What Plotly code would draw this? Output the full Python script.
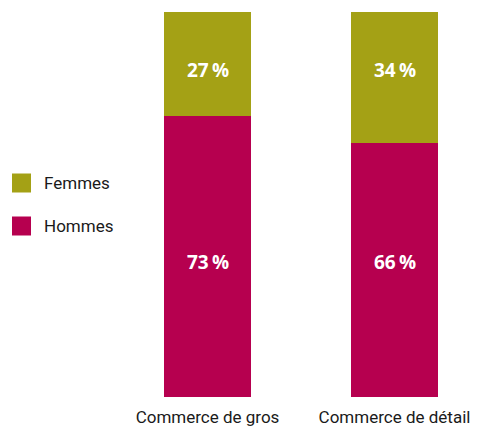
import plotly.graph_objects as go

categories = ["Commerce de gros", "Commerce de détail"]
hommes = [73, 66]
femmes = [27, 34]
colors = {"Hommes": "#B6004F", "Femmes": "#A4A115"}

W, H = 477, 428
ML, MR, MT, MB = 114, 0, 12, 31
PW = W - ML - MR
PH = H - MT - MB
LABEL_Y = {"Hommes": 35, "Femmes": 85}  # label placement (axis units)

def px_x(px):
    return (px - ML) / PW

def px_y(py):
    return 1 - (py - MT) / PH

fig = go.Figure()
for name, vals in [("Hommes", hommes), ("Femmes", femmes)]:
    fig.add_trace(go.Bar(
        x=categories, y=vals, name=name,
        marker=dict(color=colors[name], line=dict(width=0)),
        width=0.465, showlegend=False, hoverinfo="skip",
    ))
    for cat, v in zip(categories, vals):
        fig.add_annotation(x=cat, y=LABEL_Y[name], text=f"{v}\u2009%", showarrow=False,
                           font=dict(family="Open Sans", size=19, color="white", weight="bold"))

# legend drawn manually
for name, cy in [("Femmes", 183), ("Hommes", 226)]:
    fig.add_shape(type="rect", xref="paper", yref="paper",
                  x0=px_x(12), x1=px_x(31), y0=px_y(cy - 9.5), y1=px_y(cy + 9.5),
                  fillcolor=colors[name], line=dict(width=0))
    fig.add_annotation(xref="paper", yref="paper", x=px_x(42), y=px_y(cy),
                       text=name, showarrow=False, xanchor="left", yanchor="middle",
                       font=dict(family="Roboto", size=17, color="#1a1a1a"))

fig.update_layout(
    barmode="stack", width=W, height=H,
    margin=dict(l=ML, r=MR, t=MT, b=MB, pad=0),
    plot_bgcolor="white", paper_bgcolor="white",
    xaxis=dict(type="category", range=[-0.5, (W - ML) / 187 - 0.5], showgrid=False,
               showline=False, zeroline=False, ticks="", ticklabelstandoff=8,
               tickfont=dict(family="Roboto", size=17, color="#1a1a1a")),
    yaxis=dict(range=[0, 100], visible=False),
)
fig.write_html("out.html", config={"displayModeBar": False},
               post_script="document.body.style.margin='0';")
